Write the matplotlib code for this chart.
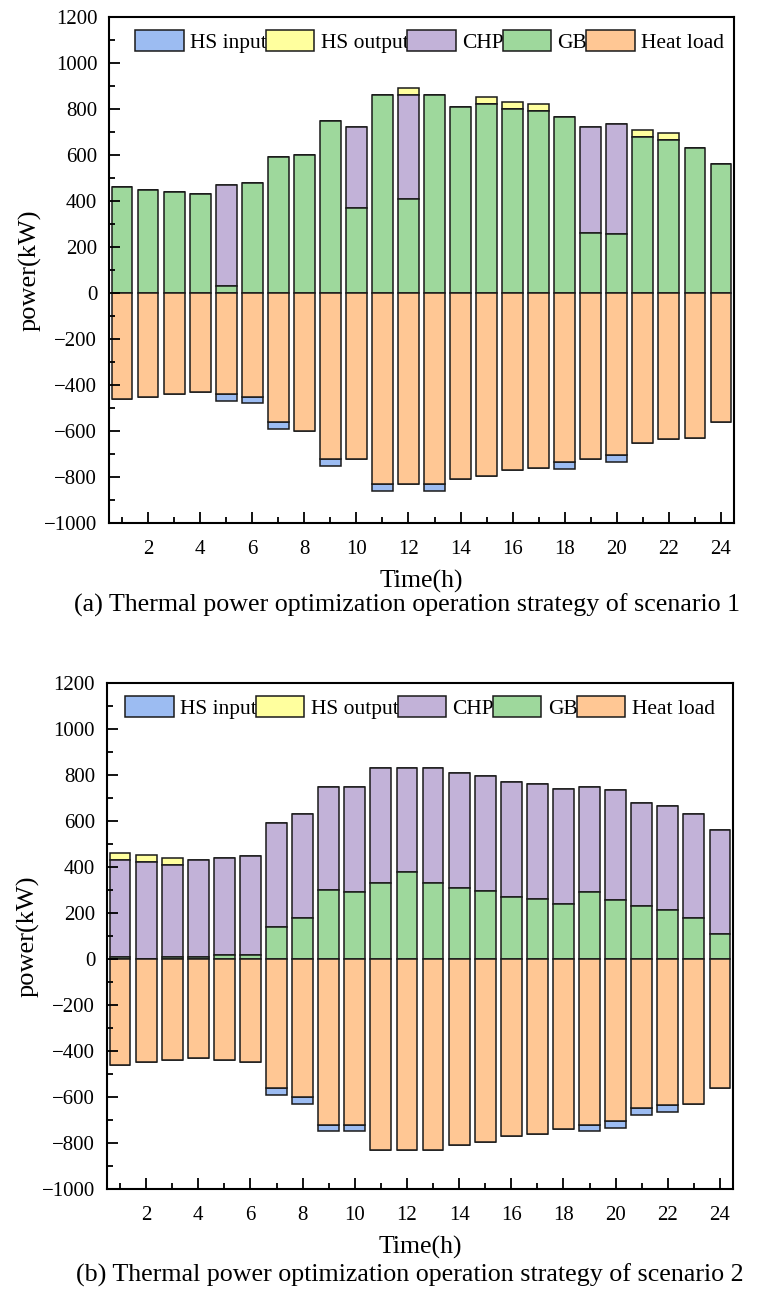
import numpy as np
import matplotlib
matplotlib.use('Agg')
import matplotlib.pyplot as plt
from matplotlib.ticker import MultipleLocator

plt.rcParams['font.family'] = ['Liberation Serif', 'DejaVu Serif']
plt.rcParams['mathtext.fontset'] = 'stix'

hours = list(range(1, 25))

# scenario 1 (kW)
gb_1 = [460, 450, 440, 430, 30, 480, 590, 600, 750, 370, 860, 410,
        860, 810, 820, 800, 790, 765, 260, 255, 680, 665, 630, 560]
chp_1 = [0, 0, 0, 0, 440, 0, 0, 0, 0, 350, 0, 450,
         0, 0, 0, 0, 0, 0, 460, 480, 0, 0, 0, 0]
hs_out_1 = [0, 0, 0, 0, 0, 0, 0, 0, 0, 0, 0, 30,
            0, 0, 32, 30, 30, 0, 0, 0, 30, 30, 0, 0]
load_1 = [-460, -450, -440, -430, -440, -450, -560, -600, -720, -720, -830, -830,
          -830, -810, -795, -770, -760, -735, -720, -705, -650, -635, -630, -560]
hs_in_1 = [0, 0, 0, 0, -30, -30, -30, 0, -30, 0, -30, 0,
           -30, 0, 0, 0, 0, -32, 0, -30, 0, 0, 0, 0]

# scenario 2 (kW)
gb_2 = [10, 2, 10, 10, 18, 18, 140, 180, 300, 290, 330, 380,
        330, 310, 295, 270, 260, 240, 290, 255, 230, 215, 180, 110]
chp_2 = [420, 420, 400, 420, 420, 432, 450, 450, 450, 460, 500, 450,
         500, 500, 500, 500, 500, 500, 460, 480, 450, 450, 450, 450]
hs_out_2 = [30, 30, 30, 0, 0, 0, 0, 0, 0, 0, 0, 0,
            0, 0, 0, 0, 0, 0, 0, 0, 0, 0, 0, 0]
load_2 = [-460, -450, -440, -430, -440, -450, -560, -600, -720, -720, -830, -830,
          -830, -810, -795, -770, -760, -740, -720, -705, -650, -635, -630, -560]
hs_in_2 = [0, 0, 0, 0, 0, 0, -30, -30, -30, -30, 0, 0,
           0, 0, 0, 0, 0, 0, -30, -30, -30, -30, 0, 0]

c_in = '#9cbcf2'
c_out = '#ffff9e'
c_chp = '#c2b2d8'
c_gb = '#9ed89c'
c_load = '#ffc794'


def draw(ax, gb, chp, hs_out, load, hs_in, leg_x):
    x = np.array(hours)
    gb = np.array(gb)
    chp = np.array(chp)
    load = np.array(load)
    kw = dict(width=0.8, edgecolor='#1a1a1a', linewidth=1.1)
    b_in = ax.bar(x, hs_in, bottom=load, color=c_in, label='HS input', **kw)
    b_out = ax.bar(x, hs_out, bottom=gb + chp, color=c_out, label='HS output', **kw)
    b_chp = ax.bar(x, chp, bottom=gb, color=c_chp, label='CHP', **kw)
    b_gb = ax.bar(x, gb, color=c_gb, label='GB', **kw)
    b_load = ax.bar(x, load, color=c_load, label='Heat load', **kw)

    ax.set_xlim(0.5, 24.5)
    ax.set_ylim(-1000, 1200)
    ax.xaxis.set_major_locator(MultipleLocator(2))
    ax.xaxis.set_minor_locator(MultipleLocator(1))
    ax.yaxis.set_major_locator(MultipleLocator(200))
    ax.yaxis.set_minor_locator(MultipleLocator(100))
    ax.tick_params(which='both', direction='in', labelsize=15, top=False, right=False)
    ax.tick_params(which='major', length=8, width=1.3)
    ax.tick_params(which='minor', length=4, width=1.3)
    ax.tick_params(axis='x', which='major', pad=12)
    ax.tick_params(axis='y', which='major', pad=8.5)
    for s in ax.spines.values():
        s.set_linewidth(1.5)
    ax.set_xlabel('Time(h)', fontsize=18.5, labelpad=8)
    ax.set_ylabel('power(kW)', fontsize=19, labelpad=2)
    leg = ax.legend(handles=[b_in, b_out, b_chp, b_gb, b_load], ncol=5, loc='upper center',
                    bbox_to_anchor=(leg_x, 1.0), frameon=False, fontsize=15.5,
                    handlelength=2.25, handleheight=1.15, handletextpad=0.3,
                    columnspacing=-0.05, borderaxespad=0.2)
    return leg


fig = plt.figure(figsize=(7.57, 13.03), dpi=100)
ax1 = fig.add_axes([0.144, 0.5986, 0.8256, 0.3883])
ax2 = fig.add_axes([0.1413, 0.0875, 0.827, 0.3883])

draw(ax1, gb_1, chp_1, hs_out_1, load_1, hs_in_1, 0.513)
draw(ax2, gb_2, chp_2, hs_out_2, load_2, hs_in_2, 0.5)

fig.text(0.538, 0.5357, '(a) Thermal power optimization operation strategy of scenario 1',
         ha='center', va='center', fontsize=18.7)
fig.text(0.541, 0.0215, '(b) Thermal power optimization operation strategy of scenario 2',
         ha='center', va='center', fontsize=18.7)

fig.savefig('out.png', dpi=100)
